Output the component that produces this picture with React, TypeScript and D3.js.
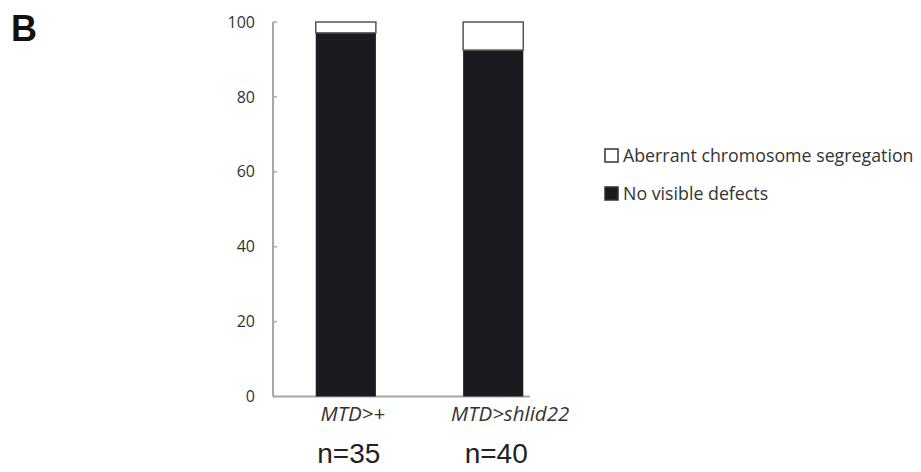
import React from 'react';
import * as d3 from 'd3';

const categories = ['MTD>+', 'MTD>shlid22'];
const nLabels = ['n=35', 'n=40'];
const noDefects = [97.1, 92.5];
const aberrant = [2.9, 7.5];
const yTicks = [0, 20, 40, 60, 80, 100];
const legendItems = [
  { label: 'Aberrant chromosome segregation', fill: '#ffffff' },
  { label: 'No visible defects', fill: '#1b1a1f' },
];

const W = 921;
const H = 472;
const axisColor = '#a8a8a8';
const textFont = '"Open Sans", "Noto Sans", sans-serif';
const arial = "Arial, 'Liberation Sans', sans-serif";
// category labels sit slightly right of bar centres in the original
const labelShift = [7, 17];

export default function App() {
  const x = d3.scaleBand().domain(categories).range([273, 566]).paddingInner(0.592).paddingOuter(0.29);
  const y = d3.scaleLinear().domain([0, 100]).range([396.5, 22]);

  return (
    <div style={{ position: 'fixed', left: 0, top: 0, background: '#fff' }}>
      <svg width={W} height={H} style={{ display: 'block' }}>
        <rect width={W} height={H} fill="#fff" />
        <text x={11} y={41} fontFamily={arial} fontWeight="bold" fontSize={36} fill="#111">B</text>

        {/* axes */}
        <line x1={273} x2={273} y1={y(100)} y2={y(0)} stroke={axisColor} strokeWidth={2} />
        <line x1={273} x2={530} y1={y(0)} y2={y(0)} stroke={axisColor} strokeWidth={2} />
        {yTicks.map((t) => (
          <g key={t}>
            <line x1={273} x2={277} y1={y(t)} y2={y(t)} stroke={axisColor} strokeWidth={1.5} />
            <text x={255} y={y(t)} dy="0.35em" textAnchor="end" fontFamily={textFont} fontSize={16} fill="#333">{t}</text>
          </g>
        ))}

        {/* bars */}
        {categories.map((c, i) => {
          const x0 = x(c)!;
          const bw = x.bandwidth();
          return (
            <g key={c}>
              <rect x={x0} y={y(noDefects[i])} width={bw} height={y(0) - y(noDefects[i])} fill="#1b1a1f" />
              <rect x={x0} y={y(noDefects[i] + aberrant[i])} width={bw} height={y(noDefects[i]) - y(noDefects[i] + aberrant[i])}
                fill="#fff" stroke="#555" strokeWidth={1.5} />
              <text x={x0 + bw / 2 + labelShift[i]} y={421} textAnchor="middle" fontFamily={textFont} fontStyle="italic" fontSize={20.5} fill="#333">{c}</text>
              <text x={x0 + bw / 2 + 3} y={463} textAnchor="middle" fontFamily={arial} fontSize={28} fill="#222">{nLabels[i]}</text>
            </g>
          );
        })}

        {/* legend */}
        {legendItems.map((d, i) => (
          <g key={d.label} transform={`translate(605, ${149 + i * 38})`}>
            <rect x={0} y={0} width={13} height={13} fill={d.fill} stroke="#333" strokeWidth={1.5} />
            <text x={18} y={6.5} dy="0.35em" fontFamily={textFont} fontSize={17.8} fill="#333">{d.label}</text>
          </g>
        ))}
      </svg>
    </div>
  );
}
